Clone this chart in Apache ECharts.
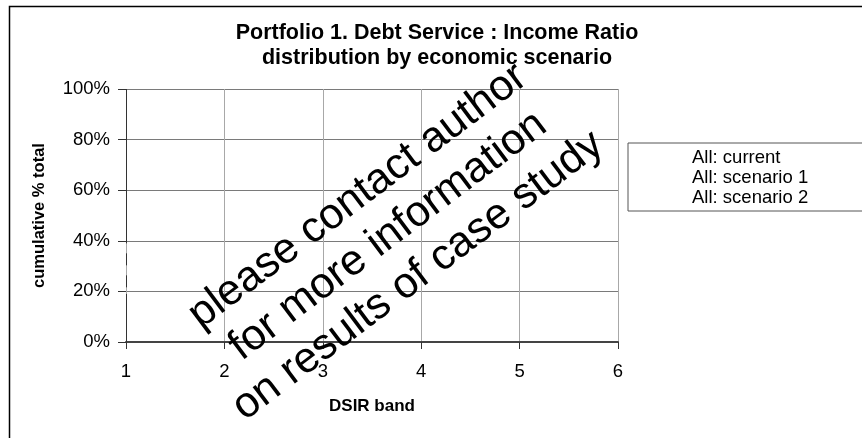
<!DOCTYPE html>
<html>
<head>
<meta charset="utf-8">
<title>Portfolio 1. Debt Service : Income Ratio</title>
<script src="https://cdn.jsdelivr.net/npm/echarts@6/dist/echarts.min.js"></script>
<style>
  html, body { margin: 0; padding: 0; background: #fff; }
  #chart { width: 862px; height: 438px; }
</style>
</head>
<body>
<div id="chart"></div>
<script>
// DSIR bands on the x axis and cumulative share ticks on the y axis
const bands = [1, 2, 3, 4, 5, 6];
const yTicks = [0, 0.2, 0.4, 0.6, 0.8, 1];
const seriesNames = ['All: current', 'All: scenario 1', 'All: scenario 2'];
// results withheld: no points are plotted for any scenario
const currentValues = [];
const scenario1Values = [];
const scenario2Values = [];
const noticeLines = ['please contact author', 'for more information', 'on results of case study'];

const FONT = '"Liberation Sans", Arial, Helvetica, sans-serif';
const chart = echarts.init(document.getElementById('chart'), null, { renderer: 'canvas' });

const valuesBySeries = [currentValues, scenario1Values, scenario2Values];

const series = seriesNames.map((name, i) => ({
  name: name,
  type: 'line',
  data: valuesBySeries[i].map((v, k) => [bands[k], v]),
  showSymbol: false,
  itemStyle: { color: 'rgba(0,0,0,0)' },
  lineStyle: { color: '#000', width: 1 }
}));

// y axis line, drawn in pieces: solid, a broken dashed stretch, solid
series.push({
  name: 'axis',
  type: 'line',
  data: [],
  silent: true,
  markLine: {
    silent: true,
    symbol: ['none', 'none'],
    label: { show: false },
    animation: false,
    data: [
      [{ coord: [bands[0], yTicks[0]] }, { coord: [bands[0], 0.19] }],
      [{ coord: [bands[0], 0.39] }, { coord: [bands[0], yTicks[yTicks.length - 1]] }]
    ],
    lineStyle: { color: '#333', width: 1, type: 'solid' }
  }
});
series.push({
  name: 'axisDash',
  type: 'line',
  data: [],
  silent: true,
  markLine: {
    silent: true,
    symbol: ['none', 'none'],
    label: { show: false },
    animation: false,
    data: [
      [{ coord: [bands[0], 0.39] }, { coord: [bands[0], 0.19] }]
    ],
    lineStyle: { color: '#333', width: 1, type: [12, 10], dashOffset: 12 }
  }
});

const option = {
  animation: false,
  backgroundColor: '#fff',
  textStyle: { fontFamily: FONT },
  title: {
    text: 'Portfolio 1. Debt Service : Income Ratio\ndistribution by economic scenario',
    left: 437,
    top: 21,
    textAlign: 'center',
    padding: 0,
    textStyle: {
      fontFamily: FONT,
      fontSize: 21.5,
      fontWeight: 'bold',
      color: '#000',
      lineHeight: 25
    }
  },
  legend: {
    data: seriesNames,
    orient: 'vertical',
    left: 628,
    top: 143,
    padding: [5, 200, 3, 58],
    itemGap: 0,
    itemWidth: 1,
    itemHeight: 1,
    icon: 'rect',
    borderColor: '#555',
    borderWidth: 1,
    selectedMode: false,
    textStyle: { fontFamily: FONT, fontSize: 18.5, color: '#000', lineHeight: 20, padding: 0 }
  },
  grid: { left: 126, right: 244, top: 89, bottom: 96, containLabel: false },
  xAxis: {
    type: 'value',
    min: bands[0],
    max: bands[bands.length - 1],
    interval: 1,
    name: 'DSIR band',
    nameLocation: 'middle',
    nameGap: 56,
    nameTextStyle: { fontFamily: FONT, fontSize: 17, fontWeight: 'bold', color: '#000' },
    axisLine: { show: true, onZero: false, lineStyle: { color: '#444', width: 2 } },
    axisTick: { show: true, length: 7, inside: false, lineStyle: { color: '#333', width: 1 } },
    axisLabel: { fontFamily: FONT, fontSize: 18.5, color: '#000', margin: 20 },
    splitLine: {
      show: true,
      interval: function (idx, val) { return val === bands[bands.length - 1]; },
      lineStyle: { color: '#a8a8a8', width: 1 }
    }
  },
  yAxis: {
    type: 'value',
    min: yTicks[0],
    max: yTicks[yTicks.length - 1],
    interval: 0.2,
    name: 'cumulative % total',
    nameLocation: 'middle',
    nameGap: 78,
    nameTextStyle: { fontFamily: FONT, fontSize: 16.5, fontWeight: 'bold', color: '#000' },
    axisLine: { show: false },
    axisTick: { show: true, length: 8, inside: false, lineStyle: { color: '#333', width: 1 } },
    axisLabel: {
      fontFamily: FONT, fontSize: 18.5, color: '#000', margin: 16,
      formatter: function (v) { return Math.round(v * 100) + '%'; }
    },
    splitLine: { show: true, lineStyle: { color: '#7a7a7a', width: 1 } }
  },
  graphic: [
    {
      type: 'rect',
      left: 7, top: 4,
      shape: { width: 1000, height: 600 },
      style: { fill: 'none', stroke: '#000', lineWidth: 1.5 },
      silent: true,
      z: 100
    },
    {
      type: 'text',
      x: 388, y: 236,
      rotation: 37 * Math.PI / 180,
      silent: true,
      z: 200,
      style: {
        text: noticeLines.join('\n'),
        fontFamily: FONT,
        fontSize: 43,
        lineHeight: 50,
        fill: '#000',
        align: 'center',
        verticalAlign: 'middle'
      }
    }
  ],
  series: series
};

chart.setOption(option);
</script>
</body>
</html>
